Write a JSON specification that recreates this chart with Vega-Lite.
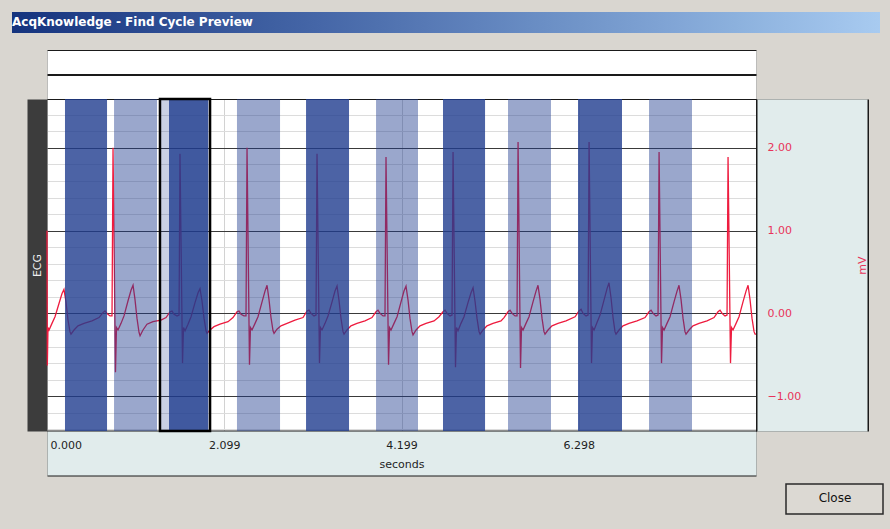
{
  "$schema": "https://vega.github.io/schema/vega-lite/v6.json",
  "width": 709,
  "height": 332,
  "autosize": {"type": "none"},
  "padding": {"left": 47, "top": 99, "right": 134, "bottom": 98},
  "background": "#d9d6d0",
  "config": {
    "font": "DejaVu Sans",
    "view": {"fill": "#ffffff", "stroke": "#1a1a1a", "strokeWidth": 1},
    "axis": {"ticks": false, "grid": false, "domain": false, "labels": false, "minExtent": 0, "maxExtent": 400}
  },
  "datasets": {
    "ecg": [
      {"t":0,"mV":1.0},{"t":0.004,"mV":-0.63},{"t":0.012,"mV":-0.17},{"t":0.024,"mV":-0.2},{"t":0.059,"mV":-0.12},{"t":0.095,"mV":-0.04},{"t":0.142,"mV":0.12},{"t":0.178,"mV":0.24},{"t":0.201,"mV":0.29},{"t":0.225,"mV":0.14},{"t":0.249,"mV":-0.08},{"t":0.272,"mV":-0.22},{"t":0.284,"mV":-0.25},{"t":0.32,"mV":-0.2},{"t":0.367,"mV":-0.15},{"t":0.438,"mV":-0.12},{"t":0.533,"mV":-0.09},
      {"t":0.616,"mV":-0.05},{"t":0.663,"mV":0.01},{"t":0.687,"mV":0.03},{"t":0.711,"mV":0.0},{"t":0.746,"mV":-0.03},{"t":0.77,"mV":-0.03},{"t":0.782,"mV":2.0},{"t":0.811,"mV":-0.71},{"t":0.823,"mV":-0.17},{"t":0.841,"mV":-0.2},{"t":0.877,"mV":-0.12},{"t":0.912,"mV":-0.03},{"t":0.959,"mV":0.15},{"t":0.995,"mV":0.28},{"t":1.019,"mV":0.34},{"t":1.042,"mV":0.17},{"t":1.066,"mV":-0.06},{"t":1.09,"mV":-0.23},{"t":1.102,"mV":-0.27},{"t":1.137,"mV":-0.2},{"t":1.184,"mV":-0.13},{"t":1.255,"mV":-0.1},{"t":1.35,"mV":-0.08},
      {"t":1.41,"mV":-0.05},{"t":1.457,"mV":0.02},{"t":1.481,"mV":0.03},{"t":1.504,"mV":-0.01},{"t":1.54,"mV":-0.03},{"t":1.564,"mV":-0.02},{"t":1.575,"mV":1.93},{"t":1.605,"mV":-0.6},{"t":1.617,"mV":-0.17},{"t":1.635,"mV":-0.21},{"t":1.67,"mV":-0.13},{"t":1.706,"mV":-0.04},{"t":1.753,"mV":0.13},{"t":1.789,"mV":0.25},{"t":1.812,"mV":0.3},{"t":1.836,"mV":0.15},{"t":1.86,"mV":-0.06},{"t":1.883,"mV":-0.21},{"t":1.895,"mV":-0.24},{"t":1.931,"mV":-0.2},{"t":1.978,"mV":-0.16},{"t":2.049,"mV":-0.13},{"t":2.144,"mV":-0.1},
      {"t":2.203,"mV":-0.05},{"t":2.25,"mV":0.02},{"t":2.274,"mV":0.03},{"t":2.298,"mV":-0.01},{"t":2.333,"mV":-0.03},{"t":2.357,"mV":-0.03},{"t":2.369,"mV":2.0},{"t":2.398,"mV":-0.62},{"t":2.41,"mV":-0.17},{"t":2.428,"mV":-0.2},{"t":2.464,"mV":-0.12},{"t":2.499,"mV":-0.04},{"t":2.547,"mV":0.14},{"t":2.582,"mV":0.27},{"t":2.606,"mV":0.34},{"t":2.629,"mV":0.17},{"t":2.653,"mV":-0.05},{"t":2.677,"mV":-0.21},{"t":2.689,"mV":-0.24},{"t":2.724,"mV":-0.19},{"t":2.771,"mV":-0.15},{"t":2.843,"mV":-0.12},{"t":2.937,"mV":-0.08},
      {"t":3.032,"mV":-0.05},{"t":3.08,"mV":0.03},{"t":3.103,"mV":0.04},{"t":3.127,"mV":0.0},{"t":3.162,"mV":-0.03},{"t":3.186,"mV":-0.02},{"t":3.198,"mV":1.93},{"t":3.227,"mV":-0.6},{"t":3.239,"mV":-0.17},{"t":3.257,"mV":-0.2},{"t":3.293,"mV":-0.12},{"t":3.328,"mV":-0.03},{"t":3.376,"mV":0.14},{"t":3.411,"mV":0.27},{"t":3.435,"mV":0.33},{"t":3.458,"mV":0.16},{"t":3.482,"mV":-0.06},{"t":3.506,"mV":-0.22},{"t":3.518,"mV":-0.25},{"t":3.553,"mV":-0.2},{"t":3.6,"mV":-0.15},{"t":3.671,"mV":-0.12},{"t":3.766,"mV":-0.09},
      {"t":3.849,"mV":-0.05},{"t":3.897,"mV":0.02},{"t":3.92,"mV":0.04},{"t":3.944,"mV":0.0},{"t":3.98,"mV":-0.03},{"t":4.003,"mV":-0.03},{"t":4.015,"mV":1.89},{"t":4.045,"mV":-0.62},{"t":4.057,"mV":-0.17},{"t":4.074,"mV":-0.2},{"t":4.11,"mV":-0.12},{"t":4.146,"mV":-0.04},{"t":4.193,"mV":0.14},{"t":4.228,"mV":0.27},{"t":4.252,"mV":0.33},{"t":4.276,"mV":0.16},{"t":4.299,"mV":-0.06},{"t":4.323,"mV":-0.22},{"t":4.335,"mV":-0.26},{"t":4.371,"mV":-0.2},{"t":4.418,"mV":-0.15},{"t":4.489,"mV":-0.12},{"t":4.584,"mV":-0.09},
      {"t":4.643,"mV":-0.04},{"t":4.69,"mV":0.02},{"t":4.714,"mV":0.04},{"t":4.738,"mV":0.0},{"t":4.773,"mV":-0.03},{"t":4.797,"mV":-0.02},{"t":4.809,"mV":1.95},{"t":4.838,"mV":-0.65},{"t":4.85,"mV":-0.17},{"t":4.868,"mV":-0.21},{"t":4.903,"mV":-0.12},{"t":4.939,"mV":-0.04},{"t":4.986,"mV":0.13},{"t":5.022,"mV":0.25},{"t":5.046,"mV":0.31},{"t":5.069,"mV":0.15},{"t":5.093,"mV":-0.06},{"t":5.117,"mV":-0.22},{"t":5.129,"mV":-0.25},{"t":5.164,"mV":-0.2},{"t":5.211,"mV":-0.15},{"t":5.282,"mV":-0.12},{"t":5.377,"mV":-0.09},
      {"t":5.413,"mV":-0.05},{"t":5.46,"mV":0.02},{"t":5.484,"mV":0.04},{"t":5.508,"mV":0.0},{"t":5.543,"mV":-0.03},{"t":5.567,"mV":-0.03},{"t":5.579,"mV":2.07},{"t":5.608,"mV":-0.66},{"t":5.62,"mV":-0.17},{"t":5.638,"mV":-0.2},{"t":5.673,"mV":-0.12},{"t":5.709,"mV":-0.04},{"t":5.756,"mV":0.14},{"t":5.792,"mV":0.27},{"t":5.815,"mV":0.34},{"t":5.839,"mV":0.17},{"t":5.863,"mV":-0.06},{"t":5.886,"mV":-0.22},{"t":5.898,"mV":-0.25},{"t":5.934,"mV":-0.2},{"t":5.981,"mV":-0.15},{"t":6.052,"mV":-0.12},{"t":6.147,"mV":-0.09},
      {"t":6.254,"mV":-0.04},{"t":6.301,"mV":0.03},{"t":6.325,"mV":0.05},{"t":6.349,"mV":0.0},{"t":6.384,"mV":-0.03},{"t":6.408,"mV":-0.02},{"t":6.42,"mV":2.07},{"t":6.449,"mV":-0.6},{"t":6.461,"mV":-0.17},{"t":6.479,"mV":-0.2},{"t":6.514,"mV":-0.11},{"t":6.55,"mV":-0.02},{"t":6.597,"mV":0.16},{"t":6.633,"mV":0.3},{"t":6.656,"mV":0.37},{"t":6.68,"mV":0.19},{"t":6.704,"mV":-0.05},{"t":6.727,"mV":-0.22},{"t":6.739,"mV":-0.25},{"t":6.775,"mV":-0.2},{"t":6.822,"mV":-0.15},{"t":6.893,"mV":-0.12},{"t":6.988,"mV":-0.09},
      {"t":7.083,"mV":-0.05},{"t":7.13,"mV":0.02},{"t":7.154,"mV":0.04},{"t":7.178,"mV":0.0},{"t":7.213,"mV":-0.03},{"t":7.237,"mV":-0.02},{"t":7.249,"mV":1.95},{"t":7.278,"mV":-0.6},{"t":7.29,"mV":-0.17},{"t":7.308,"mV":-0.2},{"t":7.343,"mV":-0.12},{"t":7.379,"mV":-0.04},{"t":7.426,"mV":0.14},{"t":7.462,"mV":0.27},{"t":7.485,"mV":0.34},{"t":7.509,"mV":0.17},{"t":7.533,"mV":-0.06},{"t":7.556,"mV":-0.22},{"t":7.568,"mV":-0.25},{"t":7.604,"mV":-0.2},{"t":7.651,"mV":-0.15},{"t":7.722,"mV":-0.12},{"t":7.817,"mV":-0.09},
      {"t":7.9,"mV":-0.05},{"t":7.947,"mV":0.02},{"t":7.971,"mV":0.04},{"t":7.995,"mV":0.0},{"t":8.03,"mV":-0.03},{"t":8.054,"mV":-0.02},{"t":8.066,"mV":1.89},{"t":8.095,"mV":-0.6},{"t":8.107,"mV":-0.17},{"t":8.125,"mV":-0.2},{"t":8.161,"mV":-0.12},{"t":8.196,"mV":-0.04},{"t":8.243,"mV":0.14},{"t":8.279,"mV":0.27},{"t":8.303,"mV":0.34},{"t":8.326,"mV":0.17},{"t":8.35,"mV":-0.06},{"t":8.374,"mV":-0.22},{"t":8.386,"mV":-0.25},{"t":8.397,"mV":-0.25}
    ],
    "bands": [
      {"start":0.213,"end":0.711,"kind":"dark"},
      {"start":0.794,"end":1.303,"kind":"light"},
      {"start":1.445,"end":1.907,"kind":"dark"},
      {"start":2.25,"end":2.76,"kind":"light"},
      {"start":3.068,"end":3.577,"kind":"dark"},
      {"start":3.897,"end":4.394,"kind":"light"},
      {"start":4.69,"end":5.188,"kind":"dark"},
      {"start":5.46,"end":5.969,"kind":"light"},
      {"start":6.289,"end":6.81,"kind":"dark"},
      {"start":7.13,"end":7.639,"kind":"light"}
    ],
    "selected": [
      {"start":1.338,"end":1.931}
    ]
  },
  "resolve": {"axis": {"x": "independent", "y": "independent"}},
  "layer": [
    {
      "data": {"name": "ecg"},
      "mark": {"type": "point", "opacity": 0},
      "encoding": {
        "x": {"field": "t", "type": "quantitative", "scale": {"domain": [0, 8.397], "nice": false, "zero": false},
              "axis": {"orient": "bottom", "offset": 22, "domain": true, "domainColor": "#1a1a1a", "domainWidth": 46, "title": null}},
        "y": {"field": "mV", "type": "quantitative", "scale": {"domain": [-1.42, 2.59], "nice": false, "zero": false},
              "axis": {"orient": "left", "offset": 10, "domain": true, "domainColor": "#3c3c3c", "domainWidth": 20,
                       "title": "ECG", "titleColor": "#eeeeee", "titleFontSize": 11, "titleFontWeight": "normal",
                       "titleX": 0, "titleY": 166, "titleAngle": 270, "titleAlign": "center", "titleBaseline": "middle"}}
      }
    },
    {
      "data": {"name": "ecg"},
      "mark": {"type": "point", "opacity": 0},
      "encoding": {
        "x": {"field": "t", "type": "quantitative",
              "axis": {"orient": "bottom", "offset": 22, "domain": true, "domainColor": "#e1ecec", "domainWidth": 44, "title": null}},
        "y": {"field": "mV", "type": "quantitative",
              "axis": {"orient": "left", "grid": true, "gridColor": "#dcdcdc", "gridWidth": 1,
                       "values": [-1.4,-1.2,-0.8,-0.6,-0.4,-0.2,0.2,0.4,0.6,0.8,1.2,1.4,1.6,1.8,2.2,2.4], "title": null}}
      }
    },
    {
      "data": {"name": "ecg"},
      "mark": {"type": "point", "opacity": 0},
      "encoding": {
        "x": {"field": "t", "type": "quantitative",
              "axis": {"orient": "bottom", "offset": 0, "labels": true, "values": [0, 2.099, 4.199, 6.298], "format": ".3f",
                       "labelFlush": true, "labelFlushOffset": -3, "labelPadding": 8, "labelFontSize": 11, "labelColor": "#1e1e1e",
                       "grid": true, "gridColor": "#d2d2d2", "gridWidth": 1,
                       "title": "seconds", "titleFontSize": 11, "titleFontWeight": "normal", "titleColor": "#1e1e1e", "titlePadding": 8}},
        "y": {"field": "mV", "type": "quantitative",
              "axis": {"orient": "right", "offset": 56, "domain": true, "domainColor": "#1a1a1a", "domainWidth": 113, "title": null}}
      }
    },
    {
      "data": {"name": "ecg"},
      "mark": {"type": "point", "opacity": 0},
      "encoding": {
        "x": {"field": "t", "type": "quantitative",
              "axis": {"orient": "top", "offset": 24.5, "domain": true, "domainColor": "#1a1a1a", "domainWidth": 50, "title": null}},
        "y": {"field": "mV", "type": "quantitative",
              "axis": {"orient": "right", "offset": 56, "domain": true, "domainColor": "#e1ecec", "domainWidth": 110, "title": null}}
      }
    },
    {
      "data": {"name": "ecg"},
      "mark": {"type": "line", "color": "#ee1c3f", "strokeWidth": 1.3},
      "encoding": {
        "x": {"field": "t", "type": "quantitative",
              "axis": {"orient": "top", "offset": 24.5, "domain": true, "domainColor": "#ffffff", "domainWidth": 48, "title": null}},
        "y": {"field": "mV", "type": "quantitative",
              "axis": {"orient": "right", "offset": 0, "labels": true, "values": [-1, 0, 1, 2], "format": ".2f",
                       "labelPadding": 11, "labelColor": "#e8335a", "labelFontSize": 11, "labelAlign": "left", "labelBaseline": "middle",
                       "grid": true, "gridColor": "#3a3a3a", "gridWidth": 1,
                       "title": "mV", "titleColor": "#e8335a", "titleFontSize": 11, "titleFontWeight": "normal",
                       "titleAngle": 270, "titleX": 106, "titleY": 166, "titleAlign": "center", "titleBaseline": "middle"}}
      }
    },
    {
      "data": {"name": "ecg"},
      "mark": {"type": "point", "opacity": 0},
      "encoding": {
        "x": {"field": "t", "type": "quantitative",
              "axis": {"orient": "top", "offset": 24.5, "domain": true, "domainColor": "#1a1a1a", "domainWidth": 2, "title": null}},
        "y": {"field": "mV", "type": "quantitative", "axis": null}
      }
    },
    {
      "data": {"name": "bands"},
      "mark": {"type": "rect", "color": "#1f3c8f"},
      "encoding": {
        "x": {"field": "start", "type": "quantitative", "axis": null},
        "x2": {"field": "end"},
        "opacity": {"field": "kind", "type": "nominal", "scale": {"domain": ["dark", "light"], "range": [0.8, 0.45]}, "legend": null}
      }
    },
    {
      "data": {"name": "selected"},
      "mark": {"type": "rect", "fill": "#1f3c8f", "fillOpacity": 0.24, "stroke": "#000000", "strokeWidth": 2.5},
      "encoding": {
        "x": {"field": "start", "type": "quantitative", "axis": null},
        "x2": {"field": "end"}
      }
    },
    {
      "data": {"name": "ecg"},
      "mark": {"type": "point", "size": 0, "strokeWidth": 0, "opacity": 1, "filled": true},
      "encoding": {
        "x": {"field": "t", "type": "quantitative", "axis": null},
        "y": {"field": "mV", "type": "quantitative", "axis": null},
        "color": {"field": "t", "type": "quantitative", "scale": {"range": ["#15347e", "#a8cbf0"]},
                  "legend": {"orient": "none", "legendX": -35, "legendY": -82, "direction": "horizontal",
                             "gradientLength": 868, "gradientThickness": 21, "gradientStrokeWidth": 0, "gradientOpacity": 1,
                             "title": "AcqKnowledge - Find Cycle Preview", "titleColor": "#ffffff", "titleFontSize": 12,
                             "titleFontWeight": "bold", "titlePadding": -17, "titleAnchor": "start", "titleLimit": 700,
                             "labelOpacity": 0, "padding": 0}}
      }
    },
    {
      "data": {"name": "ecg"},
      "mark": {"type": "point", "size": 0, "strokeWidth": 0, "opacity": 1, "filled": true},
      "encoding": {
        "x": {"field": "t", "type": "quantitative", "axis": null},
        "y": {"field": "mV", "type": "quantitative", "axis": null},
        "fill": {"field": "t", "type": "quantitative", "scale": {"range": ["#dcd9d3", "#dcd9d3"]},
                 "legend": {"orient": "none", "legendX": 739, "legendY": 394, "direction": "horizontal",
                            "gradientLength": 97, "gradientThickness": 30, "gradientStrokeColor": "#2a2a2a", "gradientStrokeWidth": 1.5,
                            "gradientOpacity": 1,
                            "title": "Close", "titleColor": "#111111", "titleFontSize": 12, "titleFontWeight": "normal",
                            "titlePadding": -21, "titleAnchor": "middle", "titleLimit": 200,
                            "labelOpacity": 0, "padding": 0}}
      }
    }
  ]
}
